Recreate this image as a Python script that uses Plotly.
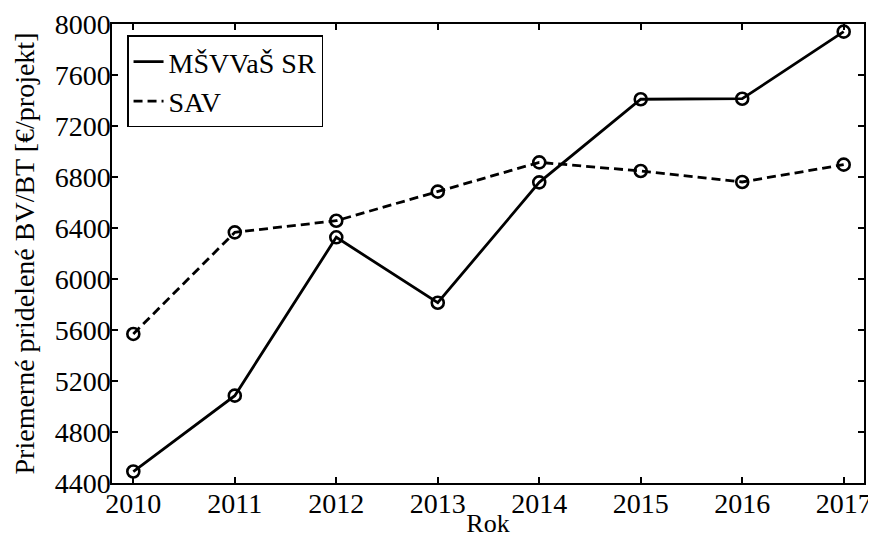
import plotly.graph_objects as go

years = [2010, 2011, 2012, 2013, 2014, 2015, 2016, 2017]
msvvas = [4490, 5085, 6327, 5814, 6758, 7410, 7414, 7940]
sav = [5569, 6366, 6457, 6685, 6915, 6847, 6761, 6897]
yticks = [4400, 4800, 5200, 5600, 6000, 6400, 6800, 7200, 7600, 8000]

FONT = "Liberation Serif, Times New Roman, serif"
FS = 28

fig = go.Figure()
# legend-only line traces + marker traces
fig.add_trace(go.Scatter(x=years, y=msvvas, mode="lines", name="MŠVVaŠ SR",
                         line=dict(color="black", width=2.8)))
fig.add_trace(go.Scatter(x=years, y=sav, mode="lines", name="SAV",
                         line=dict(color="black", width=2.8, dash="9px,5px")))
for ys in (msvvas, sav):
    fig.add_trace(go.Scatter(x=years, y=ys, mode="markers", showlegend=False,
                             marker=dict(symbol="circle-open", size=12, color="black",
                                         line=dict(width=2.6, color="black"))))

axis_common = dict(showline=True, linecolor="black", linewidth=1.5, mirror="ticks",
                   ticks="inside", ticklen=6, tickwidth=1.5, tickcolor="black",
                   showgrid=False, zeroline=False, automargin=False,
                   tickfont=dict(family=FONT, size=FS, color="black"))

fig.update_xaxes(range=[2009.79, 2017.2], tickvals=years, ticktext=[str(y) for y in years],
                 title=dict(text="Rok", font=dict(family=FONT, size=26, color="black"), standoff=2),
                 ticklabelstandoff=-5,
                 **axis_common)
fig.update_yaxes(range=[4400, 8000], tickvals=yticks, ticktext=[str(v) for v in yticks],
                 title=dict(text="Priemerné pridelené BV/BT [€/projekt]",
                            font=dict(family=FONT, size=FS, color="black"), standoff=12),
                 ticklabelstandoff=-6,
                 **axis_common)

# page body has an 8px margin: compensate so the plot area lands at x 112-864, y 24-483
fig.update_layout(
    width=868, height=530,
    margin=dict(l=104, r=12, t=16, b=55),
    paper_bgcolor="white", plot_bgcolor="white",
    font=dict(family=FONT, size=FS, color="black"),
    showlegend=True,
    legend=dict(x=0.02, y=0.975, xanchor="left", yanchor="top",
                bordercolor="black", borderwidth=1.5, bgcolor="white",
                font=dict(family=FONT, size=FS, color="black"),
                tracegroupgap=0, itemwidth=30),
)

fig.write_html("out.html")
